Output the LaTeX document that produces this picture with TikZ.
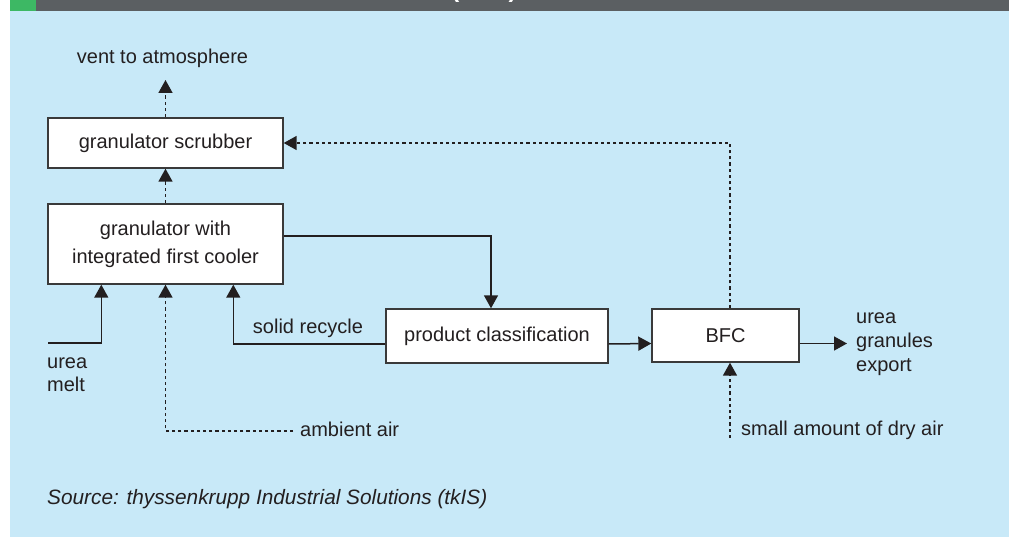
\documentclass[tikz,border=0pt]{standalone}
\usepackage{fontspec}
\setmainfont{Liberation Sans}
\usetikzlibrary{arrows.meta}
\definecolor{bgblue}{HTML}{C8E9F8}
\definecolor{bargrey}{HTML}{5B5F62}
\definecolor{bargreen}{HTML}{3DB864}
\definecolor{ink}{HTML}{231F20}
\definecolor{edge}{HTML}{3A3A3A}

\begin{document}
\begin{tikzpicture}[x=1pt,y=-1pt,
  every node/.style={text=ink, font=\fontsize{20}{24}\selectfont, inner sep=0pt},
  stage/.style={draw=edge, fill=white, line width=1.4pt, align=center},
  flow/.style={draw=ink, line width=1.5pt, -{Triangle[length=13pt,width=14pt]}},
  airflow/.style={draw=ink, line width=1.6pt, dash pattern=on 3.2pt off 3pt,
                  -{Triangle[length=13pt,width=14pt]}},
  tag/.style={align=left}]

\useasboundingbox (0,0) rectangle (1009,537);

% page background and heading strip
\fill[white] (0,0) rectangle (1009,537);
\fill[bgblue] (10,11) rectangle (1009,537);
\fill[bargreen] (10,0) rectangle (36,11);
\fill[bargrey] (36,0) rectangle (1009,11);
\begin{scope}
  \clip (36,0) rectangle (1009,11);
  \node[text=white, font=\bfseries\fontsize{24}{24}\selectfont, anchor=base] (heading) at (484,-2) {(BFC)};
\end{scope}

% process units
\node[stage, minimum width=235pt, minimum height=50pt] (scrub) at (165.5,143) {granulator scrubber};
\node[stage, minimum width=235pt, minimum height=80pt, font=\fontsize{20}{28}\selectfont] (gran) at (165.5,244) {granulator with\\integrated first cooler};
\node[stage, minimum width=222pt, minimum height=54pt] (prod) at (497,336) {product classification};
\node[stage, minimum width=147pt, minimum height=53pt] (bfc) at (725.5,335.5) {BFC};

% off-gas to atmosphere
\coordinate (ventout) at (165.5,80);
\node (vent) at (162.5,58) {vent to atmosphere};
\draw[airflow] (scrub.north) -- (ventout);
\draw[airflow] (gran.north) -- (scrub.south);

% solids path
\draw[flow] ([yshift=8pt]gran.east) -| ([xshift=-6pt]prod.north);
\draw[flow] ([yshift=-8pt]prod.east) -- ([yshift=-8pt]bfc.west);
\draw[flow] ([yshift=-8pt]prod.west) -| ([xshift=186pt]gran.south west);
\node (recyc) at (308,328) {solid recycle};

% urea melt feed
\coordinate (meltin) at (48,343);
\draw[flow] (meltin) -| ([xshift=54pt]gran.south west);
\node[tag, anchor=west, font=\fontsize{20}{23}\selectfont] (melt) at (47,375) {urea\\melt};

% ambient air to the granulator
\coordinate (airin) at (293,431);
\draw[airflow] (airin) -| (gran.south);
\node[anchor=west] (amb) at (300,429) {ambient air};

% BFC air back to the scrubber
\draw[airflow] ([xshift=4.5pt]bfc.north) |- (scrub.east);
\coordinate (dryin) at (730,438);
\draw[airflow] (dryin) -- ([xshift=4.5pt]bfc.south);
\node[anchor=west] (dry) at (741,430) {small amount of dry air};

% product export
\coordinate (exportout) at (847,343.5);
\draw[flow] ([yshift=-8pt]bfc.east) -- (exportout);
\node[tag, anchor=west] (export) at (856,344) {urea\\granules\\export};

% source line
\node[anchor=west, font=\itshape\fontsize{20.8}{24}\selectfont] (src) at (47,499) {Source: thyssenkrupp Industrial Solutions (tkIS)};
\end{tikzpicture}
\end{document}
